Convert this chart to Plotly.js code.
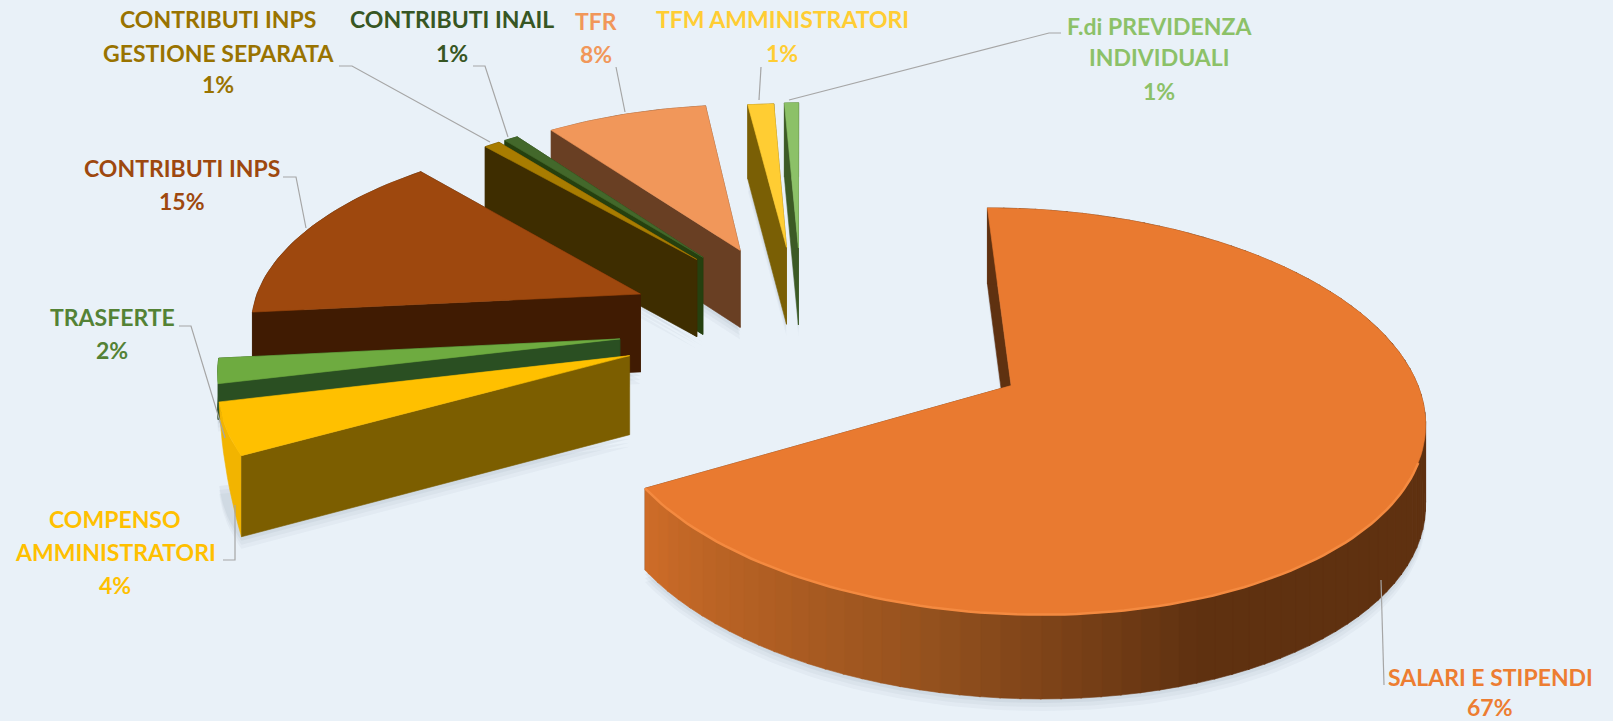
<!DOCTYPE html>
<html><head><meta charset="utf-8">
<script src="https://cdn.plot.ly/plotly-3.0.1.min.js"></script>
<style>html,body{margin:0;padding:0;background:#E9F1F8}#c{width:1613px;height:721px}</style>
</head><body><div id="c"></div>
<script>
// ---- data ----
const categories = ["SALARI E STIPENDI","COMPENSO AMMINISTRATORI","TRASFERTE","CONTRIBUTI INPS","CONTRIBUTI INPS GESTIONE SEPARATA","CONTRIBUTI INAIL","TFR","TFM AMMINISTRATORI","F.di PREVIDENZA INDIVIDUALI"];
const shares = [67.0,4.3,2.1,15.1,0.8,0.7,8.0,1.3,0.7];
const percentLabels = ["67%","4%","2%","15%","1%","1%","8%","1%","1%"];
// ---- styles ----
const topColors  = ["#E97A30","#FFC000","#6EAB40","#9E480E","#A87C00","#43682B","#F1975A","#FFCD33","#8CC168"];
const wallColors = ["#5F3110","#7C5E00","#2A4F22","#401B02","#3E2D00","#25400F","#693F23","#7A5F05","#3C5A25"];
const rimColors  = ["#5F3110","#F2B400","#2A4F22","#401B02","#3E2D00","#25400F","#693F23","#7A5F05","#3C5A25"];
const textColors = ["#ED7D31","#FFC000","#548235","#9E480E","#997300","#375623","#F1975A","#FFCD33","#8CC168"];
const explode    = [232,176,178,172,165,165,168,165,165];
const radius     = [385,390,386,385,370,370,372,368,372];
const nudgeX     = [0,0,0,0,0,0,0,0,2];
const nudgeY     = [4,0,0,-2,-15,-15,-6,-5,-3];
const depthScale = [1,1,0.45,1,1,1,1,1,1];
const drawOrder  = [8,7,6,5,4,3,2,1,0];
// ---- camera ----
const D=3224, HOR=-1200, H=1500, CX=800, YC=52;
function proj(X,Y,down){
  const s=1/(1-Y/D);
  return [CX+X*s, HOR+H*s+down*(78+(s-1)*30)];
}
const total=shares.reduce((a,b)=>a+b,0);
let cum=0;
const slices=shares.map((v,i)=>{
  const a0=cum/total*2*Math.PI; cum+=v; const a1=cum/total*2*Math.PI;
  const m=(a0+a1)/2;
  return {i,a0,a1,R:radius[i],ax:nudgeX[i]+explode[i]*Math.sin(m),ay:nudgeY[i]+YC-explode[i]*Math.cos(m)};
});
function pt(sl,a,r,down){return proj(sl.ax+r*sl.R*Math.sin(a),sl.ay-r*sl.R*Math.cos(a),down);}
function arc(sl,a0,a1,down,down2){
  const d2=down2===undefined?down:down2;
  const n=Math.max(2,Math.ceil(Math.abs(a1-a0)/(Math.PI/120)));
  const o=[];for(let k=0;k<=n;k++)o.push(pt(sl,a0+(a1-a0)*k/n,1,down+(d2-down)*k/n));return o;
}
const traces=[];
function poly(points,color,w){
  const xs=points.map(p=>p[0]),ys=points.map(p=>p[1]);
  xs.push(xs[0]);ys.push(ys[0]);
  traces.push({type:"scatter",mode:"lines",x:xs,y:ys,fill:"toself",fillcolor:color,
    line:{color:color,width:w===undefined?0.6:w},hoverinfo:"skip",showlegend:false});
}
function lerp(c1,c2,t){return "rgb("+c1.map((c,i)=>Math.round(c+(c2[i]-c)*t)).join(",")+")";}
function mainWall(a){
  const d=a*180/Math.PI;
  const A=[205,108,40],B=[150,82,30],C=[95,49,16];
  if(d>=195) return lerp(B,A,(d-195)/45);
  if(d>=160) return lerp(C,B,(d-160)/35);
  return "rgb(95,49,16)";
}
// soft shadows
drawOrder.forEach(i=>{
  const sl=slices[i];
  const outline=[pt(sl,0,0,depthScale[i])].concat(arc(sl,sl.a0,sl.a1,depthScale[i]));
  [[12,0.05],[8,0.06],[4,0.08]].forEach(([dy,op])=>{
    poly(outline.map(p=>[p[0],p[1]+dy]),"rgba(105,118,135,"+op+")",0);
  });
});
// slices, far to near
drawOrder.forEach(i=>{
  const sl=slices[i], c=wallColors[i], dz=depthScale[i];
  const apT=pt(sl,0,0,0), apB=pt(sl,0,0,dz);
  if(i!==1) poly([apT,pt(sl,sl.a1,1,0),pt(sl,sl.a1,1,dz),apB],c);
  if(i===0){
    poly([apT,pt(sl,sl.a0,1,0),pt(sl,sl.a0,1,dz),apB],c);
    const step=Math.PI/72;
    for(let a=sl.a0;a<sl.a1-1e-6;a+=step){
      const b=Math.min(a+step*1.08,sl.a1);
      poly(arc(sl,a,b,0).concat(arc(sl,b,a,dz)),mainWall((a+b)/2));
    }
  } else if(i===1){
    // the rim of this slice fades out towards its far end
    poly(arc(sl,sl.a0,sl.a1,0).concat(arc(sl,sl.a1,sl.a0,0.05,dz)),rimColors[i]);
    poly([apT,pt(sl,sl.a0,1,0),pt(sl,sl.a0,1,dz),apB],c);
  } else {
    poly(arc(sl,sl.a0,sl.a1,0).concat(arc(sl,sl.a1,sl.a0,dz)),rimColors[i]);
    poly([apT,pt(sl,sl.a0,1,0),pt(sl,sl.a0,1,dz),apB],c);
  }
  poly([apT].concat(arc(sl,sl.a0,sl.a1,0)),topColors[i]);
  if(i===0){
    const hl=arc(sl,Math.PI*0.62,sl.a1,0);
    traces.push({type:"scatter",mode:"lines",x:hl.map(p=>p[0]),y:hl.map(p=>p[1]),
      line:{color:"#F48A40",width:2.5},hoverinfo:"skip",showlegend:false});
  }
});
// ---- labels: [category index, centre x, [line text...], [line y...]] ----
const labelLayout=[
 [3,182,["CONTRIBUTI INPS",percentLabels[3]],[168,201]],
 [4,218,["CONTRIBUTI INPS","GESTIONE SEPARATA",percentLabels[4]],[19,53,84]],
 [5,452,["CONTRIBUTI INAIL",percentLabels[5]],[19,53]],
 [6,596,["TFR",percentLabels[6]],[21,54]],
 [7,782,["TFM AMMINISTRATORI",percentLabels[7]],[19,53]],
 [8,1159,["F.di PREVIDENZA","INDIVIDUALI",percentLabels[8]],[26,57,91]],
 [2,112,["TRASFERTE",percentLabels[2]],[317,350]],
 [1,115,["COMPENSO","AMMINISTRATORI",percentLabels[1]],[519,552,585]],
 [0,1490,["SALARI E STIPENDI",percentLabels[0]],[677,707]]
];
const annotations=[];
labelLayout.forEach(([i,x,lines,ys])=>lines.forEach((t,k)=>annotations.push({
  xref:"x",yref:"y",x:x,y:ys[k],text:"<b>"+t+"</b>",showarrow:false,xanchor:"center",yanchor:"middle",
  font:{family:"Lato, 'Noto Sans', sans-serif",size:23,color:textColors[i]}
})));
const leaders=[
 "M339,66 L352,66 L490,142","M473,66 L485,66 L508,137","M616,67 L625,112","M761,67 L759,100",
 "M1061,33 L1049,33 L789,100","M283,177 L296,177 L306,228","M179,326 L191,326 L225,438",
 "M223,560 L235,560 L235,505","M1381,580 L1384,685"
];
const shapes=leaders.map(p=>({type:"path",xref:"x",yref:"y",path:p,line:{color:"#A6A6A6",width:1.2}}));
Plotly.newPlot("c",traces,{
  width:1613,height:721,margin:{l:0,r:0,t:0,b:0},paper_bgcolor:"#E9F1F8",plot_bgcolor:"#E9F1F8",
  showlegend:false,hovermode:false,
  xaxis:{range:[0,1613],visible:false,fixedrange:true},
  yaxis:{range:[721,0],visible:false,fixedrange:true},
  annotations:annotations,shapes:shapes
},{staticPlot:true,displayModeBar:false});
</script></body></html>
